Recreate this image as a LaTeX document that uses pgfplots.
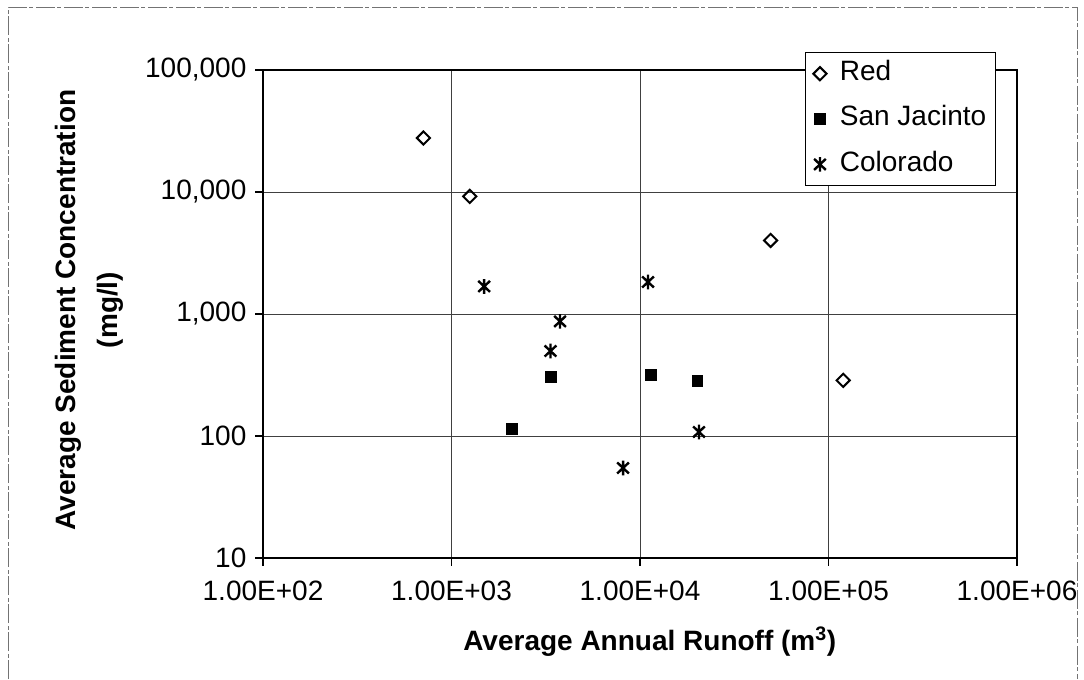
\documentclass[border=0pt]{standalone}
\usepackage{fontspec}
\setmainfont{Liberation Sans}
\usepackage{pgfplots}
\pgfplotsset{compat=1.18}
\pgfdeclareplotmark{xstar}{%
  \pgfpathmoveto{\pgfqpoint{0pt}{\pgfplotmarksize}}%
  \pgfpathlineto{\pgfqpoint{0pt}{-\pgfplotmarksize}}%
  \pgfpathmoveto{\pgfqpoint{-0.8\pgfplotmarksize}{0.75\pgfplotmarksize}}%
  \pgfpathlineto{\pgfqpoint{0.8\pgfplotmarksize}{-0.75\pgfplotmarksize}}%
  \pgfpathmoveto{\pgfqpoint{-0.8\pgfplotmarksize}{-0.75\pgfplotmarksize}}%
  \pgfpathlineto{\pgfqpoint{0.8\pgfplotmarksize}{0.75\pgfplotmarksize}}%
  \pgfusepathqstroke}
\begin{document}
\begin{tikzpicture}[x=0.75pt,y=0.75pt]
\useasboundingbox (0,0) rectangle (1084,679);
\draw[black!55, line width=0.6pt, dash pattern=on 14pt off 2pt on 3pt off 2pt] (8,0) -- (8,672) -- (1077,672) -- (1077,0);
\begin{axis}[
  at={(197.25pt,90.75pt)}, anchor=south west,
  scale only axis, width=565.5pt, height=366pt,
  xmode=log, ymode=log,
  xmin=1e2, xmax=1e6, ymin=10, ymax=1e5,
  xtick={1e2,1e3,1e4,1e5,1e6},
  xticklabels={1.00E+02,1.00E+03,1.00E+04,1.00E+05,1.00E+06},
  ytick={10,100,1000,10000,100000},
  yticklabels={10,100,{1,000},{10,000},{100,000}},
  xminorticks=false, yminorticks=false,
  tick pos=left, tick align=outside, major tick length=6pt,
  tick style={black, line width=0.8pt},
  axis line style={black, line width=1.6pt},
  grid=major, major grid style={black!75, line width=0.5pt},
  ticklabel style={font=\fontsize{21}{25}\selectfont},
  xticklabel style={yshift=-8pt},
  yticklabel style={xshift=-3pt},
  xlabel={Average Annual Runoff (m\textsuperscript{3})},
  ylabel={Average Sediment Concentration\\(mg/l)},
  xlabel style={at={(axis description cs:0.513,-0.172)}, anchor=center, font=\fontsize{21}{25}\selectfont\bfseries},
  ylabel style={at={(axis description cs:-0.2308,0.508)}, anchor=center, align=center, font=\fontsize{21}{31.5}\selectfont\bfseries},
  legend style={at={(0.7188,1.0369)}, anchor=north west, draw=black, line width=0.6pt, fill=white,
    font=\fontsize{21}{25}\selectfont, row sep=14pt, inner xsep=6pt, inner ysep=6pt,
    nodes={inner sep=1pt, text height=14pt, text depth=4pt},
    /tikz/every odd column/.append style={column sep=9pt}},
  legend cell align=left,
]
\addplot[only marks, mark=square, mark size=3.5pt, mark options={rotate=45, draw=black, fill=white, line width=1.5pt}]
  coordinates {(710,27700) (1250,9200) (49300,4010) (119700,286)};
\addlegendentry{Red}
\addplot[only marks, mark=square*, mark size=4pt, mark options={draw=black, fill=black, line width=0.5pt}]
  coordinates {(2090,115) (3360,305) (11390,318) (20150,282)};
\addlegendentry{San Jacinto}
\addplot[only marks, mark=xstar, mark size=5.5pt, mark options={draw=black, line width=1.8pt}]
  coordinates {(1490,1683) (11030,1830) (3765,870) (3350,497) (20550,108) (8130,54.7)};
\addlegendentry{Colorado}
\end{axis}
\end{tikzpicture}
\end{document}
